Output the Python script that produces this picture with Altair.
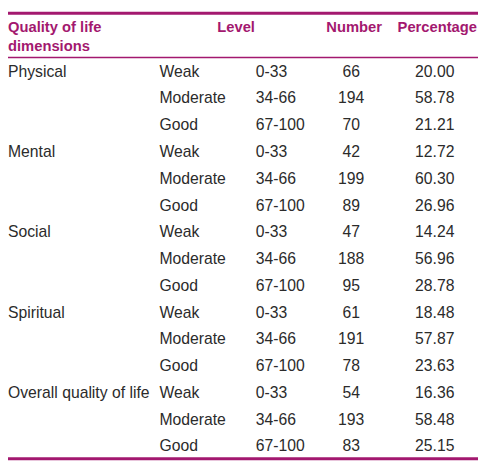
import altair as alt
import pandas as pd

# ---- data -------------------------------------------------------------
dimensions = ["Physical", "Mental", "Social", "Spiritual", "Overall quality of life"]
levels = ["Weak", "Moderate", "Good"]
ranges = ["0-33", "34-66", "67-100"]
numbers = [66, 194, 70, 42, 199, 89, 47, 188, 95, 61, 191, 78, 54, 193, 83]
percentages = [20.00, 58.78, 21.21, 12.72, 60.30, 26.96, 14.24, 56.96, 28.78,
               18.48, 57.87, 23.63, 16.36, 58.48, 25.15]
header_dim = ["Quality of life", "dimensions"]
header_level = "Level"
header_number = "Number"
header_pct = "Percentage"

rows = []
i = 0
for d in dimensions:
    for k, lv in enumerate(levels):
        rows.append({
            "row": i,
            "dimension": d if k == 0 else "",
            "level": lv,
            "range": ranges[k],
            "number": numbers[i],
            "percentage": percentages[i],
        })
        i += 1
df = pd.DataFrame(rows)

# ---- styling ----------------------------------------------------------
W, H = 478, 456
ACCENT = "#a3186f"
BODY = "#2b2b2b"
FONT = "Liberation Sans"

yenc = alt.Y("row:Q", scale=alt.Scale(domain=[0, 14], range=[61, 442]), axis=None)
base = alt.Chart(df)

def col(field, xpos, align, fmt=None):
    t = alt.Text(field, format=fmt) if fmt else alt.Text(field)
    return base.mark_text(align=align, baseline="middle", font=FONT,
                          fontSize=16, color=BODY).encode(
        x=alt.value(xpos), y=yenc, text=t)

dim_layer = base.transform_filter(alt.datum.dimension != "").mark_text(
    align="left", baseline="middle", font=FONT, fontSize=16, color=BODY
).encode(x=alt.value(0), y=yenc, text="dimension:N")

level_layer = col("level:N", 154, "left")
range_layer = col("range:N", 252, "left")
num_layer = col("number:Q", 349, "center")
pct_layer = col("percentage:Q", 454, "right", ".2f")

hdr = alt.Chart(pd.DataFrame({"a": [0]}))

def htext(txt, xpos, ypos, align):
    return hdr.mark_text(align=align, baseline="middle", font=FONT,
                         fontSize=15, fontWeight="bold", color=ACCENT).encode(
        x=alt.value(xpos), y=alt.value(ypos), text=alt.value(txt))

headers = (htext(header_dim[0], 0, 16, "left")
           + htext(header_dim[1], 0, 35, "left")
           + htext(header_level, 232, 16, "center")
           + htext(header_number, 352, 16, "center")
           + htext(header_pct, 477, 16, "right"))

def rule(ypos, sw):
    return hdr.mark_rule(color=ACCENT, strokeWidth=sw).encode(
        x=alt.value(0), x2=alt.value(W), y=alt.value(ypos))

rules = rule(1.5, 3) + rule(46.5, 1.5) + rule(454.5, 3)

chart = alt.layer(
    rules, headers, dim_layer, level_layer, range_layer, num_layer, pct_layer
).properties(
    width=W, height=H,
    autosize=alt.AutoSizeParams(type="none"),
    padding=0,
).configure_view(stroke=None).resolve_scale(y="shared")

chart.save("out.html", embed_options={"renderer": "svg", "actions": False})
